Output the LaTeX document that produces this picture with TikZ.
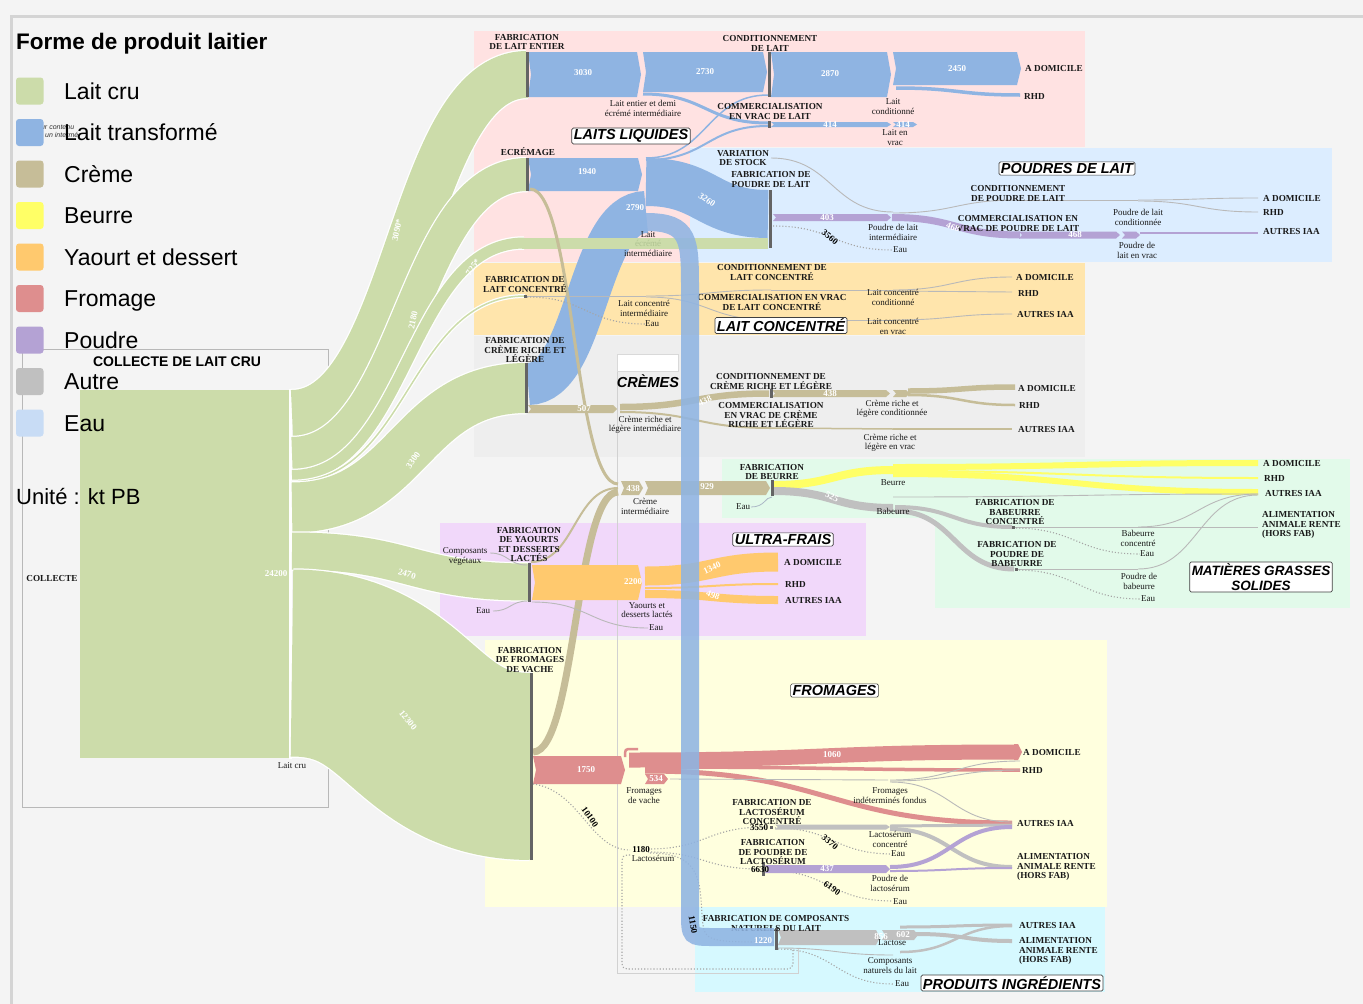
\documentclass[tikz,border=0pt]{standalone}
\usepackage{fontspec}
\setmainfont{Liberation Serif}
\newfontfamily\sansf{Liberation Sans}
\definecolor{bgc}{RGB}{244,244,244}
\definecolor{framec}{RGB}{212,212,212}
\definecolor{cgreen}{RGB}{204,220,170}
\definecolor{cblue}{RGB}{143,180,226}
\definecolor{ccreme}{RGB}{198,189,152}
\definecolor{cbeurre}{RGB}{255,255,102}
\definecolor{cyaourt}{RGB}{255,201,110}
\definecolor{cfromage}{RGB}{222,142,142}
\definecolor{cpurple}{RGB}{180,162,212}
\definecolor{cautre}{RGB}{192,192,192}
\definecolor{ceau}{RGB}{200,220,245}
\definecolor{rpink}{RGB}{255,226,226}
\definecolor{rblue}{RGB}{220,237,255}
\definecolor{rorange}{RGB}{255,229,172}
\definecolor{rgray}{RGB}{238,238,238}
\definecolor{rmint}{RGB}{226,250,234}
\definecolor{rpurple}{RGB}{241,216,250}
\definecolor{ryellow}{RGB}{255,255,222}
\definecolor{rcyan}{RGB}{214,249,255}
\definecolor{nodec}{RGB}{100,100,100}
\definecolor{thinc}{RGB}{185,185,185}
\definecolor{dotc}{RGB}{165,165,165}
\definecolor{txt}{RGB}{25,25,25}
\definecolor{fadegreen}{RGB}{175,195,145}
\newcommand\sklink[6]{\pgfmathsetmacro\skxm{(#3+#5)/2}\draw[#1,line width=#2pt] (#3,#4) .. controls (\skxm,#4) and (\skxm,#6) .. (#5,#6);}
\newcommand\gflow[5]{\pgfmathsetmacro\skxm{(#2+#4)/2}\pgfmathsetmacro\skw{#1+2.5}\draw[white,line width=\skw pt] (#2,#3) .. controls (\skxm,#3) and (\skxm,#5) .. (#4,#5);\draw[cgreen,line width=#1pt] (#2,#3) .. controls (\skxm,#3) and (\skxm,#5) .. (#4,#5);}
\newcommand\skthin[4]{\sklink{thinc}{0.9}{#1}{#2}{#3}{#4}}
\newcommand\skdot[4]{\pgfmathsetmacro\skxm{(#1+#3)/2}\draw[dotc,line width=1.1pt,dotted] (#1,#2) .. controls (\skxm,#2) and (\skxm,#4) .. (#3,#4);}
\newcommand\hband[5]{\fill[#1] (#2,#4) -- ({#3-4},#4) -- (#3,{(#4+#5)/2}) -- ({#3-4},#5) -- (#2,#5) -- ({#2+3},{(#4+#5)/2}) -- cycle;}
\newcommand\nbar[3]{\fill[nodec] ({#1-1.5},#2) rectangle ({#1+1.5},#3);}
\tikzset{
 lab/.style={font=\fontsize{9.2}{9.3}\selectfont\bfseries, text=txt, align=center, inner sep=0pt},
 endl/.style={lab, anchor=west, align=left},
 sm/.style={font=\fontsize{9}{9.2}\selectfont, text=txt, align=center, inner sep=0pt},
 num/.style={font=\fontsize{9}{9}\selectfont\bfseries, text=white, inner sep=0pt},
 bnum/.style={font=\fontsize{9}{9}\selectfont\bfseries, text=black, inner sep=0pt},
 ttl/.style={draw=black!75, fill=white, rounded corners=1.5pt, line width=0.7pt, font=\sansf\bfseries\itshape\fontsize{14.5}{15}\selectfont, inner xsep=2pt, inner ysep=1.5pt, align=center},
 leg/.style={anchor=base west, font=\sansf\fontsize{23}{23}\selectfont, inner sep=0pt, text=black}
}
\begin{document}
\begin{tikzpicture}[x=1pt,y=-1pt]
\useasboundingbox (0,0) rectangle (1363,1004);
\fill[bgc] (0,0) rectangle (1363,1004);
\draw[framec, line width=3pt] (11.5,1004) -- (11.5,16.5) -- (1363,16.5);
% regions
\fill[rpink] (474,31) rectangle (1085,147);
\fill[rpink] (474,147) rectangle (690,262);
\fill[rblue] (690,148) rectangle (1332,262);
\fill[rorange] (474,263) rectangle (1085,335);
\fill[rgray] (474,336) rectangle (1085,457);
\fill[rmint] (722,459) rectangle (1350,518);
\fill[rmint] (935,518) rectangle (1350,608);
\fill[rpurple] (440,523) rectangle (866,636);
\fill[ryellow] (485,640) rectangle (1107,907);
\fill[rcyan] (695,907) rectangle (1105,992);
% collecte box
\draw[black!28, line width=1pt] (22,349) rectangle (328,807);
\draw[black!18, line width=0.8pt] (617.5,371) -- (617.5,973) -- (798,973) -- (798,948);
\fill[white] (617,354) rectangle (678,371);
\draw[black!15, line width=0.6pt] (617,354) rectangle (678,371);
% collecte node
\fill[cgreen] (80,390) rectangle (288.5,758);
\draw[white, line width=2.5pt] (290.5,389) -- (290.5,759);
% green flows
\gflow{47}{292}{413.5}{527}{74.5}
\gflow{33}{292}{453.5}{527}{174.5}
\gflow{11}{292}{475.5}{524}{243}
\gflow{1.5}{292}{481.7}{525}{296}
\gflow{50}{292}{507.5}{526}{388}
\gflow{37}{292}{551}{529}{582}
\gflow{187}{292}{663}{531}{766.5}
% blue flows
\hband{cblue}{528}{641}{52}{97}
\hband{cblue}{643}{767}{52}{92}
\hband{cblue}{771}{891}{52}{97}
\hband{cblue}{893}{1021}{52}{85}
\sklink{cblue}{3.5}{896}{88}{1020}{95}
\hband{cblue}{528}{642}{158}{191}
\sklink{cblue}{3}{643}{94}{768}{123}
\sklink{cblue}{2}{646}{160}{768}{126}
\sklink{cblue}{1.5}{646}{158}{768}{95}
\hband{cblue}{771}{891}{122}{127}
\hband{cblue}{893}{917}{122}{127}
\sklink{cblue}{42}{528}{384}{646}{212}
\sklink{cblue}{48}{646}{182}{768}{214}
% green 725 horizontal
\draw[cgreen, line width=11pt] (522,243) -- (768,243);
% poudre
\hband{cpurple}{773}{891}{214}{221}
\sklink{cpurple}{7}{892}{217.5}{1020}{235}
\hband{cpurple}{1019}{1120}{231.5}{238.5}
\hband{cpurple}{1122}{1140}{231.5}{238.5}
\draw[cpurple, line width=2pt] (1140,233) -- (1258,233);
\skthin{771}{158}{893}{212}
\skthin{893}{213}{1018}{200}
\draw[thinc, line width=0.9pt] (1018,200) -- (1138,200);
\skthin{1138}{200}{1258}{198}
\skthin{1138}{201}{1258}{212}
\skdot{773}{226}{893}{250}
% concentre
\draw[thinc, line width=0.9pt] (525,296) -- (646,296);
\skthin{646}{296}{771}{290}
\skthin{646}{297}{771}{320}
\draw[thinc, line width=0.9pt] (771,290) -- (893,290);
\draw[thinc, line width=0.9pt] (771,320) -- (893,320);
\skthin{893}{290}{1012}{277}
\skthin{893}{291}{1012}{292}
\skthin{893}{320}{1012}{314}
\skdot{527}{297}{645}{324}
% cremes
\sklink{ccreme}{3}{530}{189}{618}{484}
\sklink{ccreme}{7}{533}{752}{618}{492}
\sklink{ccreme}{2}{531}{562}{618}{488}
\hband{ccreme}{528}{617}{405}{413}
\sklink{ccreme}{6.5}{620}{407}{769}{393.5}
\hband{ccreme}{772}{890}{390}{397}
\hband{ccreme}{893}{910}{390}{397}
\sklink{ccreme}{5.5}{908}{391}{1015}{387}
\sklink{ccreme}{2.5}{908}{395}{1015}{405}
\sklink{ccreme}{2}{620}{412}{771}{428}
\draw[ccreme, line width=1.5pt] (771,428) -- (893,429);
\sklink{ccreme}{1.5}{893}{429}{1012}{429}
\hband{ccreme}{621}{643}{481}{495}
\hband{ccreme}{645}{770}{481}{495}
% beurre
\sklink{cbeurre}{8}{774}{485}{893}{470}
\sklink{cbeurre}{6}{893}{467}{1258}{463}
\sklink{cbeurre}{2}{893}{471}{1258}{478}
\sklink{cbeurre}{6}{893}{474}{1258}{492}
\sklink{cautre}{8}{774}{491}{893}{508}
\skthin{893}{497}{1258}{494}
\sklink{cautre}{4}{895}{507}{1012}{527}
\sklink{cautre}{5}{895}{511}{1014}{569}
\draw[thinc, line width=0.9pt] (1013,527) -- (1138,527);
\draw[thinc, line width=0.9pt] (1016,569) -- (1138,569);
\skthin{1138}{527}{1258}{527}
\skthin{1138}{527}{1258}{494}
\skthin{1138}{569}{1258}{495}
\skdot{1013}{528}{1140}{554}
\skdot{1016}{570}{1141}{599}
\draw[ceau!60!gray, line width=0.8pt] (751,507) .. controls (765,507) and (765,497) .. (772,497);
% ultra-frais
\hband{cyaourt}{532}{642}{565}{600}
\sklink{cyaourt}{19}{645}{576}{778}{562}
\sklink{cyaourt}{2}{645}{588}{778}{584}
\sklink{cyaourt}{8}{645}{594}{778}{600}
\skthin{490}{553}{527}{565}
\skthin{493}{611}{528}{601}
\skthin{532}{602}{648}{628}
% fromages
\hband{cfromage}{533}{625}{756}{784}
\draw[cfromage, line width=2.5pt] (625,757) .. controls (625,749) .. (632,749) -- (638,749);
\sklink{cfromage}{15}{629}{760}{1016}{752}
\fill[cfromage] (1014,744) -- (1018,744) -- (1022,752) -- (1018,760) -- (1014,760) -- cycle;
\sklink{cfromage}{3.5}{645}{767}{1020}{770}
\sklink{cfromage}{5}{645}{771}{1012}{823}
\hband{cfromage}{645}{668}{774}{784}
\skthin{670}{779}{888}{780}
\skthin{890}{780}{1020}{761}
\skthin{890}{781}{1020}{770}
\skthin{890}{782}{1012}{822}
\draw[dotc, line width=1.1pt, dotted] (533,784) .. controls (580,790) and (590,850) .. (630,850);
\skdot{648}{849}{765}{827}
\skdot{648}{852}{760}{869}
\draw[dotc, line width=1.1pt, dotted, rounded corners=5pt] (630,855) -- (622,855) -- (622,969) -- (793,969) -- (793,948);
\draw[dotc, line width=1.1pt, dotted] (650,853) .. controls (700,853) and (700,880) .. (702,915) .. controls (704,942) .. (775,942);
\skdot{775}{828}{893}{854}
\skdot{765}{870}{893}{901}
\hband{cautre}{775}{890}{824.5}{829.5}
\sklink{cautre}{3}{890}{826}{1012}{825}
\sklink{cautre}{4}{890}{829}{1012}{867}
\hband{cpurple}{765}{890}{865}{873}
\sklink{cpurple}{4}{890}{867}{1012}{827}
\sklink{cpurple}{2}{890}{871}{1012}{868}
% ingredients
\hband{cautre}{778}{880}{930}{945}
\hband{cautre}{882}{918}{930}{940}
\sklink{cautre}{3}{900}{927}{1012}{925}
\sklink{cautre}{4}{916}{934}{1012}{941}
\sklink{cautre}{2.5}{900}{952}{1012}{926}
\skthin{778}{948}{893}{955}
\skdot{778}{949}{893}{984}
% node bars
\nbar{527}{52}{97}
\nbar{527}{158}{191}
\nbar{526}{363}{413}
\nbar{529.5}{563}{602}
\nbar{531}{673}{860}
\nbar{769}{52}{97}
\nbar{769}{121}{128}
\nbar{770}{190}{248}
\nbar{776}{928}{950}
\nbar{772}{480}{496}
\nbar{763}{862}{876}
\nbar{771}{389}{398}
\fill[nodec] (523.5,294.5) rectangle (526.5,297.5);
\fill[nodec] (770,826) rectangle (773,829);
\fill[nodec] (1011.5,525.5) rectangle (1014.5,528.5);
\fill[nodec] (1014.5,567.5) rectangle (1017.5,570.5);
% ---------- labels ----------
\node[lab] (fle) at (527,42) {FABRICATION\\DE LAIT ENTIER};
\node[lab] (cdl) at (770,43.5) {CONDITIONNEMENT\\DE LAIT};
\node[sm] (lei) at (643,108.5) {Lait entier et demi\\écrémé intermédiaire};
\node[lab] (cvl) at (770,111.5) {COMMERCIALISATION\\EN VRAC DE LAIT};
\node[sm] (lco) at (893,106.5) {Lait\\conditionné};
\node[sm] (lvr) at (895,137.5) {Lait en\\vrac};
\node[ttl] (tll) at (631,136) {LAITS LIQUIDES};
\node[lab] (ecr) at (528,152) {ECRÉMAGE};
\node[lab] (var) at (743,158) {VARIATION\\DE STOCK};
\node[lab] (fpl) at (771,179.5) {FABRICATION DE\\POUDRE DE LAIT};
\node[sm] (lecr) at (648,244) {Lait\\\textcolor{fadegreen}{écrémé}\\intermédiaire};
\node[sm] (pli) at (893,232.5) {Poudre de lait\\intermédiaire};
\node[sm] (eau1) at (900,250) {Eau};
\node[bnum, rotate=-40] (n3560) at (830,237) {3560};
\node[ttl] (tpl) at (1067,168.5) {POUDRES DE LAIT};
\node[lab] (cpl) at (1018,193.5) {CONDITIONNEMENT\\DE POUDRE DE LAIT};
\node[lab] (cvp) at (1018,223.5) {COMMERCIALISATION EN\\VRAC DE POUDRE DE LAIT};
\node[sm] (plc) at (1138,217.5) {Poudre de lait\\conditionnée};
\node[sm] (plv) at (1137,250.5) {Poudre de\\lait en vrac};
\node[endl] (e1) at (1025,68) {A DOMICILE};
\node[endl] (e2) at (1024,96) {RHD};
\node[endl] (e3) at (1263,198) {A DOMICILE};
\node[endl] (e4) at (1263,212) {RHD};
\node[endl] (e5) at (1263,231) {AUTRES IAA};
\node[lab] (flc) at (525,284.5) {FABRICATION DE\\LAIT CONCENTRÉ};
\node[lab] (clc) at (772,272.5) {CONDITIONNEMENT DE\\LAIT CONCENTRÉ};
\node[lab] (cvc) at (772,302.5) {COMMERCIALISATION EN VRAC\\DE LAIT CONCENTRÉ};
\node[sm] (lci) at (644,308.5) {Lait concentré\\intermédiaire};
\node[sm] (eau2) at (652,324) {Eau};
\node[sm] (lcc) at (893,297.5) {Lait concentré\\conditionné};
\node[sm] (lcv) at (893,326.5) {Lait concentré\\en vrac};
\node[ttl] (tlc) at (781,325.5) {LAIT CONCENTRÉ};
\node[endl] (e6) at (1016,277) {A DOMICILE};
\node[endl] (e7) at (1018,293) {RHD};
\node[endl] (e8) at (1017,314) {AUTRES IAA};
\node[lab] (fcr) at (525,350) {FABRICATION DE\\CRÈME RICHE ET\\LÉGÈRE};
\node[font=\sansf\bfseries\itshape\fontsize{14.5}{15}\selectfont, inner sep=0pt] (tcr) at (648,381) {CRÈMES};
\node[lab] (ccr) at (771,381.5) {CONDITIONNEMENT DE\\CRÈME RICHE ET LÉGÈRE};
\node[lab] (cvcr) at (771,415) {COMMERCIALISATION\\EN VRAC DE CRÈME\\RICHE ET LÉGÈRE};
\node[sm] (cri) at (645,424.5) {Crème riche et\\légère intermédiaire};
\node[sm] (crc) at (892,408.5) {Crème riche et\\légère conditionnée};
\node[sm] (crv) at (890,442.5) {Crème riche et\\légère en vrac};
\node[endl] (e9) at (1018,388) {A DOMICILE};
\node[endl] (e10) at (1019,405) {RHD};
\node[endl] (e11) at (1018,429) {AUTRES IAA};
\node[lab] (fbe) at (772,472) {FABRICATION\\DE BEURRE};
\node[sm] (cint) at (645,506.5) {Crème\\intermédiaire};
\node[sm] (eau3) at (743,507) {Eau};
\node[sm] (beu) at (893,483) {Beurre};
\node[sm] (bab) at (893,511) {Babeurre};
\node[lab] (fbc) at (1015,512) {FABRICATION DE\\BABEURRE\\CONCENTRÉ};
\node[lab] (fpb) at (1017,554) {FABRICATION DE\\POUDRE DE\\BABEURRE};
\node[sm] (bco) at (1138,538.5) {Babeurre\\concentré};
\node[sm] (eau4) at (1147,554) {Eau};
\node[sm] (pbb) at (1139,581.5) {Poudre de\\babeurre};
\node[sm] (eau5) at (1148,599) {Eau};
\node[endl] (e12) at (1263,463) {A DOMICILE};
\node[endl] (e13) at (1264,478) {RHD};
\node[endl] (e14) at (1265,493) {AUTRES IAA};
\node[endl] (e15) at (1262,525) {ALIMENTATION\\ANIMALE RENTE\\(HORS FAB)};
\node[ttl] (tmg) at (1261,577) {\fontsize{13.5}{15}\selectfont MATIÈRES GRASSES\\\fontsize{13.5}{15}\selectfont SOLIDES};
\node[lab] (fya) at (529,544.5) {FABRICATION\\DE YAOURTS\\ET DESSERTS\\LACTÉS};
\node[sm] (cve) at (465,556.5) {Composants\\végétaux};
\node[ttl] (tuf) at (783,539.5) {ULTRA-FRAIS};
\node[endl] (e16) at (784,562) {A DOMICILE};
\node[endl] (e17) at (785,584) {RHD};
\node[endl] (e18) at (785,600) {AUTRES IAA};
\node[sm] (eau6) at (483,611) {Eau};
\node[sm] (yde) at (647,610) {Yaourts et\\desserts lactés};
\node[sm] (eau7) at (656,628) {Eau};
\node[lab] (ffr) at (530,660) {FABRICATION\\DE FROMAGES\\DE VACHE};
\node[ttl] (tfr) at (834.5,690.5) {FROMAGES};
\node[sm] (fdv) at (644,795.5) {Fromages\\de vache};
\node[sm] (fif) at (890,795.5) {Fromages\\indéterminés fondus};
\node[lab] (flac) at (772,812) {FABRICATION DE\\LACTOSÉRUM\\CONCENTRÉ};
\node[bnum] (n3550) at (759,828) {3550};
\node[lab] (fplac) at (773,852) {FABRICATION\\DE POUDRE DE\\LACTOSÉRUM};
\node[bnum] (n6630) at (760,870) {6630};
\node[bnum, rotate=-55] (n10100) at (590,817) {10100};
\node[bnum] (n1180) at (641,850) {1180};
\node[sm] (lac) at (653,858.5) {Lactosérum};
\node[bnum, rotate=-40] (n3370) at (830,842) {3370};
\node[sm] (lcon) at (890,839.5) {Lactosérum\\concentré};
\node[sm] (eau8) at (898,854) {Eau};
\node[sm] (plac) at (890,883.5) {Poudre de\\lactosérum};
\node[sm] (eau9) at (900,902) {Eau};
\node[bnum, rotate=-35] (n6190) at (832,888) {6190};
\node[endl] (e19) at (1023,752) {A DOMICILE};
\node[endl] (e20) at (1022,770) {RHD};
\node[endl] (e21) at (1017,823) {AUTRES IAA};
\node[endl] (e22) at (1017,867) {ALIMENTATION\\ANIMALE RENTE\\(HORS FAB)};
\node[lab] (fcn) at (776,923.5) {FABRICATION DE COMPOSANTS\\NATURELS DU LAIT};
\node[sm] (lact) at (892,943) {Lactose};
\node[sm] (cnl) at (890,965.5) {Composants\\naturels du lait};
\node[sm] (eau10) at (902,984) {Eau};
\node[endl] (e23) at (1019,925) {AUTRES IAA};
\node[endl] (e24) at (1019,951) {ALIMENTATION\\ANIMALE RENTE\\(HORS FAB)};
\node[ttl] (tpi) at (1012,983) {PRODUITS INGRÉDIENTS};
% vertical blue band (over its neighbours, as in the reference)
\draw[cblue, opacity=0.88, line width=18pt] (646,222) .. controls (690,222) and (690,240) .. (690,290) -- (690,912) .. controls (690,937) .. (714,937) -- (774,937);
\node[bnum, rotate=-80] (n1150) at (693,925) {1150};
% numbers on bands
\node[num] (v1) at (583,73) {3030};
\node[num] (v2) at (705,72) {2730};
\node[num] (v3) at (830,74) {2870};
\node[num] (v4) at (957,69) {2450};
\node[num] (v5) at (830,124.5) {414};
\node[num] (v6) at (903,124.5) {414};
\node[num] (v7) at (587,172) {1940};
\node[num] (v8) at (635,208) {2790};
\node[num, rotate=-35] (v9) at (707,200) {3260};
\node[num] (v10) at (827,217.5) {403};
\node[num, rotate=-20] (v11) at (953,227) {468};
\node[num] (v12) at (1075,235) {468};
\node[num] (v13) at (584,409) {507};
\node[num, rotate=25] (v14) at (705,401) {438};
\node[num] (v15) at (830,393.5) {438};
\node[num] (v16) at (633,489) {438};
\node[num] (v17) at (707,487) {929};
\node[num, rotate=-25] (v18) at (832,497) {525};
\node[num] (v19) at (633,582) {2200};
\node[num, rotate=25] (v20) at (712,568) {1340};
\node[num, rotate=-20] (v21) at (713,595) {498};
\node[num] (v22) at (586,770) {1750};
\node[num] (v23) at (832,755) {1060};
\node[num] (v24) at (656,779) {534};
\node[num] (v25) at (827,869) {437};
\node[num] (v26) at (881,937) {856};
\node[num] (v27) at (903,935) {602};
\node[num] (v28) at (763,941) {1220};
\node[num, rotate=78] (v29) at (397,230) {3090*};
\node[num, rotate=78] (v30) at (413,320) {2180};
\node[num, rotate=55] (v31) at (473,267) {725*};
\node[num, rotate=55] (v32) at (413,460) {3300};
\node[num, rotate=-15] (v33) at (407,574) {2470};
\node[num, rotate=-50] (v34) at (408,720) {12300};
\node[num] (v35) at (276,574) {24200};
% collecte labels
\node[font=\sansf\bfseries\fontsize{14}{14}\selectfont, inner sep=0pt, anchor=base] (ccol) at (177,366) {COLLECTE DE LAIT CRU};
\node[lab] (col) at (52,578) {COLLECTE};
\node[sm] (lcru) at (292,766) {Lait cru};
% legend
\node[anchor=base west, font=\sansf\bfseries\fontsize{22.5}{22.5}\selectfont, inner sep=0pt] (ltitle) at (16,49) {Forme de produit laitier};
\node[anchor=base west, font=\sansf\itshape\fontsize{7}{7}\selectfont, inner sep=0pt, text=black!80] (tiny1) at (37,129) {our contenu};
\node[anchor=base west, font=\sansf\itshape\fontsize{7}{7}\selectfont, inner sep=0pt, text=black!80] (tiny2) at (45,137) {un intermé};
\foreach \c/\t/\k in {cgreen/Lait cru/0, cblue/Lait transformé/1, ccreme/Crème/2, cbeurre/Beurre/3, cyaourt/Yaourt et dessert/4, cfromage/Fromage/5, cpurple/Poudre/6, cautre/Autre/7, ceau/Eau/8}{
 \pgfmathsetmacro\ly{91+41.5*\k}
 \fill[\c, rounded corners=3pt] (16,\ly-13.5) rectangle (43.5,\ly+13.5);
 \node[leg] (leg\k) at (64,\ly+8) {\t};
}
\node[anchor=base west, font=\sansf\fontsize{22}{22}\selectfont, inner sep=0pt] (unite) at (16,504) {Unité : kt PB};
\end{tikzpicture}
\end{document}
